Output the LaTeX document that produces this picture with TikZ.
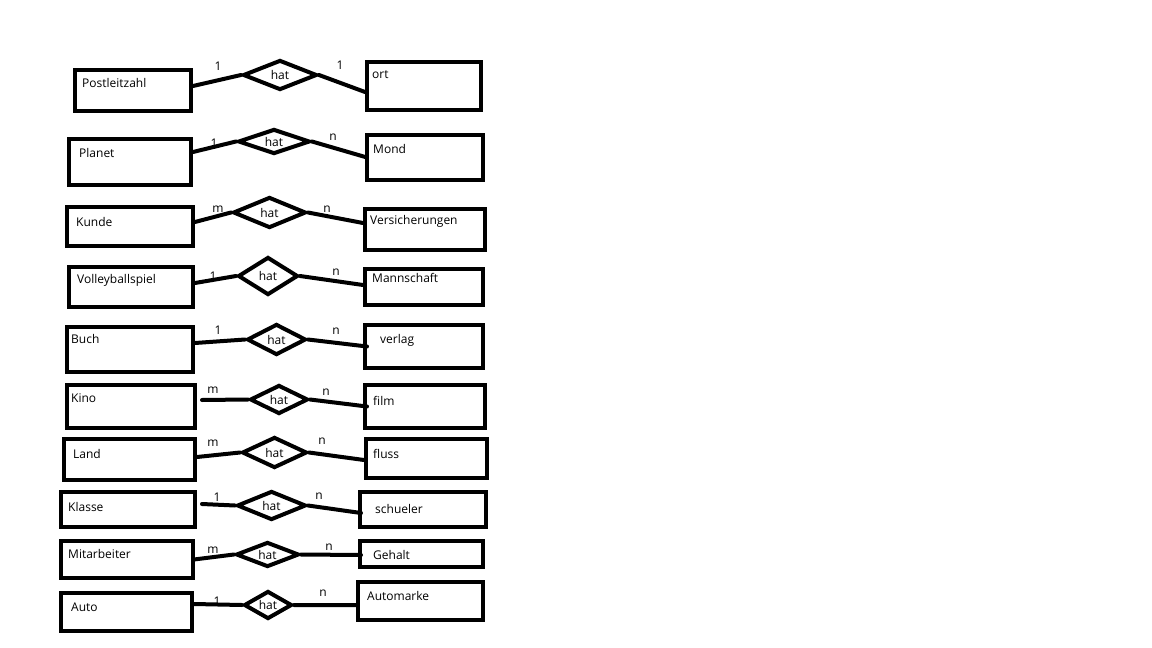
\documentclass[tikz,border=0pt]{standalone}
\usepackage{fontspec}
\setmainfont{Open Sans}
\usetikzlibrary{shapes.geometric,fit}
\tikzset{
	%entity boxes
	ebox/.style={
		rectangle,
		draw=black, line width=4pt,
		inner sep=0pt},
	%relationship diamonds
	rel/.style={
		diamond,
		draw=black, line width=4pt,
		shape aspect=2,
		inner sep=0pt,
		font=\fontsize{12}{14}\selectfont},
	%texts in the boxes
	etext/.style={anchor=west, inner sep=0pt, font=\fontsize{12}{14}\selectfont},
	%cardinalities
	card/.style={inner sep=0pt, font=\fontsize{12}{14}\selectfont},
	% connector style
	verb/.style={line width=4pt, line cap=round}
}
\begin{document}
\begin{tikzpicture}[x=1pt, y=-1pt]
	\useasboundingbox[fill=white] (0,0) rectangle (1152,648);

	% Postleitzahl - ort
	\node[ebox, fit={(75,70) (191,111)}] (postleitzahl) {};
	\node[ebox, fit={(367,62) (481,110)}] (ort) {};
	\node[etext] (t-postleitzahl) at (82,83) {Postleitzahl};
	\node[etext] (t-ort) at (372,75) {ort};
	\node[rel, minimum width=74, minimum height=30] (hat1) at (280,75) {hat};
	\node[card] (k1a) at (218,66) {1};
	\node[card] (k1b) at (340,65) {1};

	% Planet - Mond
	\node[ebox, fit={(69,139) (191,185)}] (planet) {};
	\node[ebox, fit={(367,135) (483,180)}] (mond) {};
	\node[etext] (t-planet) at (79,153) {Planet};
	\node[etext] (t-mond) at (373,149) {Mond};
	\node[rel, minimum width=72, minimum height=25] (hat2) at (274,141.5) {hat};
	\node[card] (k2a) at (214,143) {1};
	\node[card] (k2b) at (333,137) {n};

	% Kunde - Versicherungen
	\node[ebox, fit={(67,207) (193,246)}] (kunde) {};
	\node[ebox, fit={(365,209) (485,250)}] (versicherungen) {};
	\node[etext] (t-kunde) at (76,222) {Kunde};
	\node[etext] (t-versicherungen) at (370,221) {Versicherungen};
	\node[rel, minimum width=73, minimum height=31] (hat3) at (269.5,212.5) {hat};
	\node[card] (k3a) at (218,209) {m};
	\node[card] (k3b) at (327,209) {n};

	% Volleyballspiel - Mannschaft
	\node[ebox, fit={(69,267) (193,307)}] (volleyballspiel) {};
	\node[ebox, fit={(365,269) (483,305)}] (mannschaft) {};
	\node[etext] (t-volleyballspiel) at (77,280) {Volleyballspiel};
	\node[etext] (t-mannschaft) at (372,278) {Mannschaft};
	\node[rel, minimum width=60, minimum height=38] (hat4) at (268,276) {hat};
	\node[card] (k4a) at (213,276) {1};
	\node[card] (k4b) at (336,272) {n};

	% Buch - verlag
	\node[ebox, fit={(67,327) (193,372)}] (buch) {};
	\node[ebox, fit={(365,325) (483,368)}] (verlag) {};
	\node[etext] (t-buch) at (71,339) {Buch};
	\node[etext] (t-verlag) at (380,340) {verlag};
	\node[rel, minimum width=59, minimum height=31] (hat5) at (276.5,339.5) {hat};
	\node[card] (k5a) at (218,330) {1};
	\node[card] (k5b) at (336,331) {n};

	% Kino - film
	\node[ebox, fit={(67,385) (195,428)}] (kino) {};
	\node[ebox, fit={(365,385) (485,428)}] (film) {};
	\node[etext] (t-kino) at (71,398) {Kino};
	\node[etext] (t-film) at (373,401) {film};
	\node[rel, minimum width=58, minimum height=29] (hat6) at (279,399.5) {hat};
	\node[card] (k6a) at (213,390) {m};
	\node[card] (k6b) at (326,392) {n};

	% Land - fluss
	\node[ebox, fit={(64,439) (195,480)}] (land) {};
	\node[ebox, fit={(366,439) (487,478)}] (fluss) {};
	\node[etext] (t-land) at (73,454) {Land};
	\node[etext] (t-fluss) at (373,454) {fluss};
	\node[rel, minimum width=65, minimum height=31] (hat7) at (274.5,452.5) {hat};
	\node[card] (k7a) at (213,443) {m};
	\node[card] (k7b) at (322,441) {n};

	% Klasse - schueler
	\node[ebox, fit={(61,492) (195,527)}] (klasse) {};
	\node[ebox, fit={(360,492) (486,527)}] (schueler) {};
	\node[etext] (t-klasse) at (68,507) {Klasse};
	\node[etext] (t-schueler) at (375,509) {schueler};
	\node[rel, minimum width=69, minimum height=29] (hat8) at (271.5,505.5) {hat};
	\node[card] (k8a) at (217,497) {1};
	\node[card] (k8b) at (319,496) {n};

	% Mitarbeiter - Gehalt
	\node[ebox, fit={(61,541) (193,578)}] (mitarbeiter) {};
	\node[ebox, fit={(360,541) (483,567)}] (gehalt) {};
	\node[etext] (t-mitarbeiter) at (68,554) {Mitarbeiter};
	\node[etext] (t-gehalt) at (373,555) {Gehalt};
	\node[rel, minimum width=63, minimum height=25] (hat9) at (267.5,554.5) {hat};
	\node[card] (k9a) at (213,550) {m};
	\node[card] (k9b) at (329,547) {n};

	% Auto - Automarke
	\node[ebox, fit={(61,593) (192,631)}] (auto) {};
	\node[ebox, fit={(358,582) (483,620)}] (automarke) {};
	\node[etext] (t-auto) at (71,607) {Auto};
	\node[etext] (t-automarke) at (367,596) {Automarke};
	\node[rel, minimum width=48, minimum height=28] (hat10) at (268,605) {hat};
	\node[card] (k10a) at (217,601) {1};
	\node[card] (k10b) at (323,593) {n};

	\draw[verb]
	([yshift=4.5pt]postleitzahl.east) -- (hat1.west)
	(hat1.east) -- ([yshift=-6pt]ort.west)
	([yshift=10pt]planet.east) -- (hat2.west)
	(hat2.east) -- ([xshift=2pt]mond.west)
	([yshift=4.5pt]kunde.east) -- (hat3.west)
	(hat3.east) -- ([yshift=6.5pt]versicherungen.west)
	([yshift=4pt]volleyballspiel.east) -- (hat4.west)
	(hat4.east) -- ([yshift=2pt]mannschaft.west)
	([yshift=6.5pt]buch.east) -- (hat5.west)
	(hat5.east) -- ([xshift=4pt]verlag.west)
	([xshift=5pt,yshift=6.5pt]kino.east) -- (hat6.west)
	(hat6.east) -- ([xshift=4pt]film.west)
	([yshift=2.5pt]land.east) -- (hat7.west)
	(hat7.east) -- ([yshift=-1.5pt]fluss.west)
	([xshift=5pt,yshift=5.5pt]klasse.east) -- (hat8.west)
	(hat8.east) -- ([xshift=3pt,yshift=-3.5pt]schueler.west)
	([xshift=-1pt]mitarbeiter.east) -- (hat9.west)
	(hat9.east) -- ([xshift=3pt,yshift=-1pt]gehalt.west)
	([yshift=8pt]auto.east) -- (hat10.west)
	(hat10.east) -- ([yshift=-4pt]automarke.west)
	;

\end{tikzpicture}
\end{document}
